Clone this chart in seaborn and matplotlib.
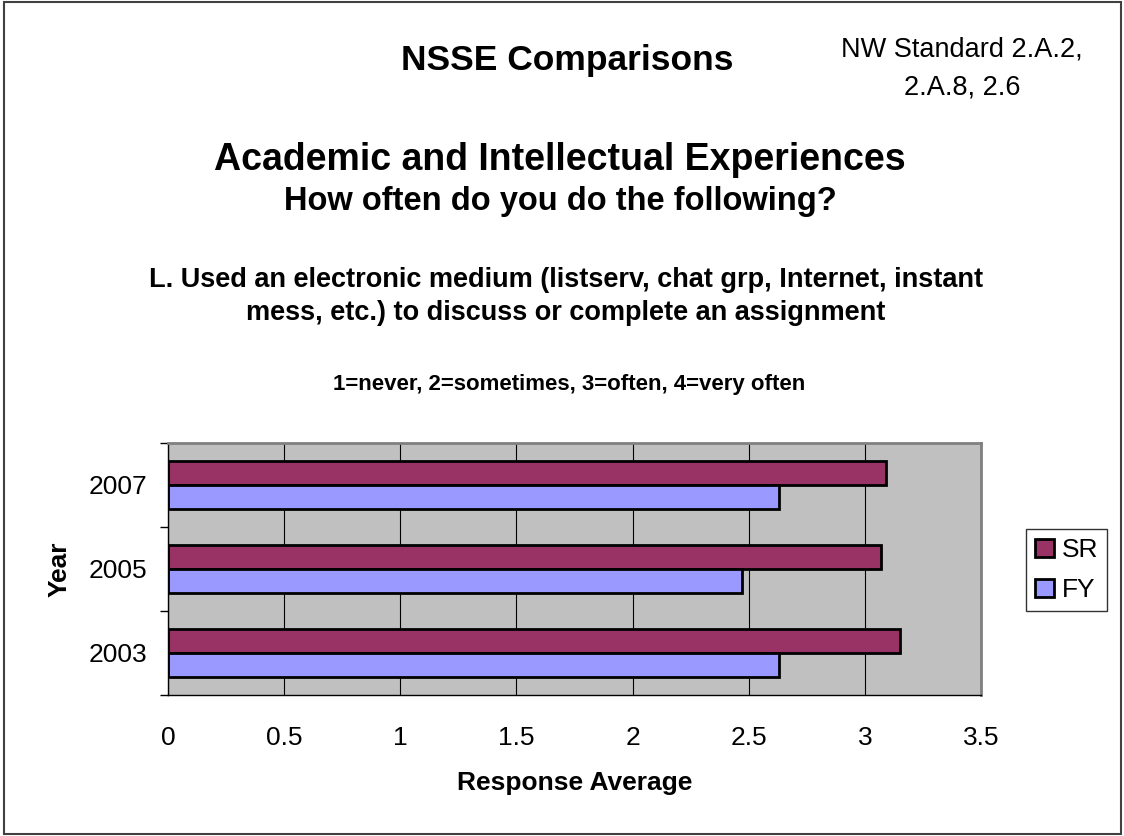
import matplotlib
matplotlib.use('Agg')
import matplotlib.pyplot as plt
from matplotlib.patches import Patch, Rectangle
import pandas as pd
import seaborn as sns

# values
years = ['2007', '2005', '2003']
sr_values = [3.09, 3.07, 3.15]
fy_values = [2.63, 2.47, 2.63]
groups = ['SR', 'FY']
x_ticks = [0, 0.5, 1, 1.5, 2, 2.5, 3, 3.5]
x_tick_labels = ['0', '0.5', '1', '1.5', '2', '2.5', '3', '3.5']

df = pd.DataFrame({
    'Year': years * 2,
    'Response Average': sr_values + fy_values,
    'Group': ['SR'] * len(years) + ['FY'] * len(years),
})

sns.set_style('white')
plt.rcParams['font.family'] = ['Liberation Sans', 'DejaVu Sans']
plt.rcParams['text.color'] = 'black'
plt.rcParams['axes.labelcolor'] = 'black'
plt.rcParams['xtick.color'] = 'black'
plt.rcParams['ytick.color'] = 'black'

W, H = 1124, 836
fig = plt.figure(figsize=(W / 100, H / 100), dpi=100)
ax = fig.add_axes([168 / W, 1 - 695 / H, (981 - 168) / W, (695 - 443) / H])

colors = {'SR': '#993366', 'FY': '#9999FF'}
sns.barplot(data=df, x='Response Average', y='Year', hue='Group',
            order=years, hue_order=groups, palette=colors, orient='h',
            width=0.57, edgecolor='black', linewidth=2, saturation=1,
            legend=False, ax=ax)

ax.set_facecolor('#C0C0C0')
ax.set_xlim(0, 3.5)
ax.set_ylim(2.5, -0.5)
ax.set_axisbelow(True)
ax.xaxis.grid(True, color='black', linewidth=0.8)
ax.yaxis.grid(False)

ax.set_xticks(x_ticks, x_tick_labels)
ax.tick_params(axis='x', length=6, width=1, direction='out', color='black',
               pad=16, labelsize=19, labelcolor='black')
ax.set_yticks([0, 1, 2], years)
ax.set_yticks([-0.5, 0.5, 1.5, 2.5], minor=True)
ax.tick_params(axis='y', which='major', length=0, pad=15, labelsize=19,
               labelcolor='black')
ax.tick_params(axis='y', which='minor', length=6, width=1, direction='out',
               color='black', left=True)

for side in ['left', 'bottom']:
    ax.spines[side].set_color('black')
    ax.spines[side].set_linewidth(1)
for side in ['top', 'right']:
    ax.spines[side].set_color('#808080')
    ax.spines[side].set_linewidth(2)

ax.set_xlabel('Response Average', fontsize=19, fontweight='bold', color='black')
ax.xaxis.set_label_coords(0.5, -0.3)
ax.set_ylabel('Year', fontsize=19, fontweight='bold', color='black')
ax.yaxis.set_label_coords(-0.118, 0.5)

# titles
fig.text(567 / W, 1 - 70 / H, 'NSSE Comparisons', ha='center', va='baseline',
         fontsize=25.5, fontweight='bold')
fig.text(962 / W, 1 - 57 / H, 'NW Standard 2.A.2,', ha='center', va='baseline',
         fontsize=19.5)
fig.text(962 / W, 1 - 94 / H, '2.A.8, 2.6', ha='center', va='baseline',
         fontsize=19.5)
fig.text(560 / W, 1 - 170 / H, 'Academic and Intellectual Experiences',
         ha='center', va='baseline', fontsize=27, fontweight='bold')
fig.text(560 / W, 1 - 210 / H, 'How often do you do the following?',
         ha='center', va='baseline', fontsize=23.5, fontweight='bold')
fig.text(566 / W, 1 - 287 / H,
         'L. Used an electronic medium (listserv, chat grp, Internet, instant',
         ha='center', va='baseline', fontsize=19.5, fontweight='bold')
fig.text(566 / W, 1 - 320 / H,
         'mess, etc.) to discuss or complete an assignment',
         ha='center', va='baseline', fontsize=19.5, fontweight='bold')
fig.text(569 / W, 1 - 390 / H, '1=never, 2=sometimes, 3=often, 4=very often',
         ha='center', va='baseline', fontsize=16, fontweight='bold')

handles = [Patch(facecolor=colors[g], edgecolor='black', linewidth=2, label=g)
           for g in groups]
leg = fig.legend(handles=handles, loc='upper left',
                 bbox_to_anchor=(1026 / W, 1 - 529 / H), borderaxespad=0,
                 fontsize=19, frameon=True, fancybox=False, edgecolor='black',
                 handlelength=0.7, handleheight=0.7, handletextpad=0.3,
                 labelspacing=0.6, borderpad=0.35)
leg.get_frame().set_linewidth(1)

fig.patches.append(Rectangle((4 / W, 2 / H), (1121 - 4) / W, (834 - 2) / H,
                             transform=fig.transFigure, fill=False,
                             edgecolor='#404040', linewidth=1.5))

fig.savefig('out.png', dpi=100)
